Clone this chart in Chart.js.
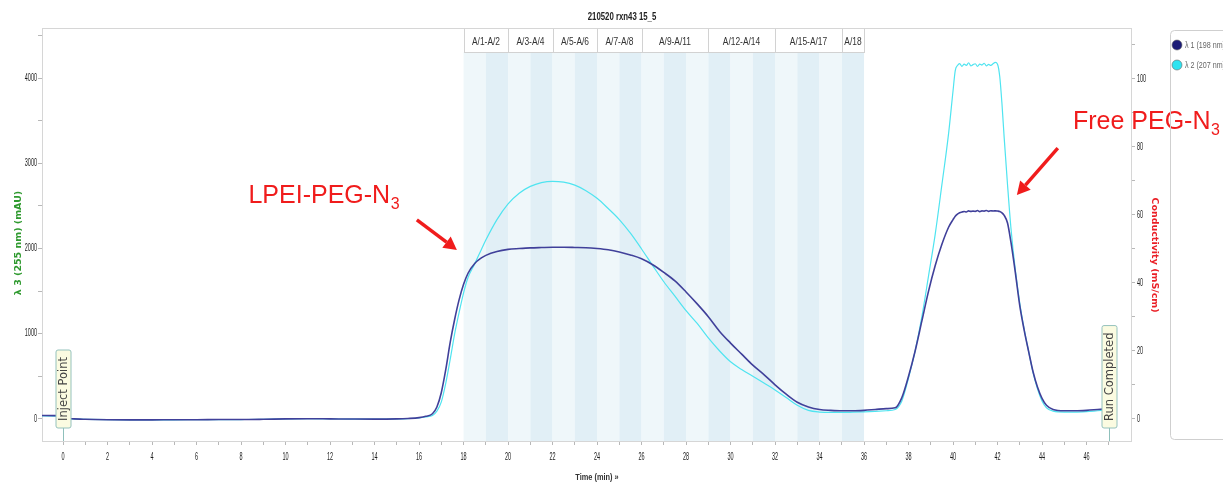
<!DOCTYPE html>
<html>
<head>
<meta charset="utf-8">
<script src="https://cdn.jsdelivr.net/npm/chart.js@4.4.1/dist/chart.umd.min.js"></script>
<style>
html,body{margin:0;padding:0;background:#fff;}
</style>
</head>
<body>
<canvas id="myChart" width="1223" height="484"></canvas>
<script>
var tiempo=[-0.95,-0.3,0,0.5,1,2,3,4,5,6,7,8,9,10,11,12,13,14,15,15.5,16,16.3,16.6,16.8,17,17.2,17.4,17.6,17.8,18,18.2,18.5,18.8,19,19.5,20,20.5,21,21.5,22,22.5,23,23.5,24,24.5,25,25.5,26,26.5,27,27.5,28,28.5,29,29.5,30,30.5,31,31.5,32,32.5,33,33.5,34,34.5,35,35.5,36,36.5,37,37.4,37.7,38,38.3,38.6,38.9,39.2,39.5,39.8,40,40.1,
40.2,40.3,40.4,40.5,40.6,40.7,40.8,40.9,41,41.1,41.2,41.3,41.4,41.5,41.6,41.7,41.8,41.9,42,
42.1,42.2,42.3,42.45,42.6,42.8,43,43.2,43.4,43.6,43.8,44,44.2,44.5,45,45.5,46,46.5,47];
var lambda1=[40,38,6,0,-5,-10,-12,-12,-10,-10,-8,-8,-5,0,2,0,-2,-3,0,5,15,30,60,140,310,580,900,1170,1400,1580,1710,1825,1890,1920,1965,1990,2000,2008,2012,2015,2015,2013,2010,2000,1985,1960,1925,1880,1810,1720,1620,1490,1350,1200,1030,890,760,630,520,400,290,195,140,110,100,95,95,100,110,120,130,250,500,800,1150,1500,1800,2050,2250,2340,2380,
2405,2420,2428,2435,2430,2442,2436,2440,2437,2446,2434,2442,2440,2447,2437,2444,2441,2443,2440,
2435,2420,2390,2300,2080,1720,1330,1040,790,550,370,240,160,110,95,95,100,110,120];
var lambda2=[35,33,4,-2,-6,-10,-12,-13,-11,-10,-9,-8,-6,-1,1,0,-3,-3,-1,3,10,22,40,90,200,420,700,1000,1250,1480,1660,1820,1990,2100,2340,2525,2650,2730,2775,2790,2780,2745,2680,2590,2470,2340,2180,1995,1800,1610,1440,1270,1120,950,800,670,580,500,420,340,250,160,100,80,75,75,78,82,88,95,110,210,480,800,1200,1680,2170,2750,3350,3850,4090,
4150,4172,4140,4165,4150,4182,4146,4160,4170,4140,4166,4155,4176,4145,4162,4150,4170,4186,4165,
4020,3700,3300,2750,2250,1750,1360,1050,790,540,350,210,130,90,80,80,85,95,105];
var nombres=['λ 1 (198 nm)','λ 2 (207 nm)'];
var colores=['#40409a','#4fe4f0'];
var marcasX=[0,1,2,3,4,5,6,7,8,9,10,11,12,13,14,15,16,17,18,19,20,21,22,23,24,25,26,27,28,29,30,31,32,33,34,35,36,37,38,39,40,41,42,43,44,45,46,47];
var marcasY=[0,500,1000,1500,2000,2500,3000,3500,4000,4500];
var marcasY2=[0,10,20,30,40,50,60,70,80,90,100,110];
var fracciones=['A/1-A/2','A/3-A/4','A/5-A/6','A/7-A/8','A/9-A/11','A/12-A/14','A/15-A/17','A/18'];
var fracIni=[18,20,22,24,26,29,32,35];
var fracFin=[20,22,24,26,29,32,35,36];
var tubos=[18,19,20,21,22,23,24,25,26,27,28,29,30,31,32,33,34,35];
var eventos=['Inject Point','Run Completed'];
var eventoT=[0,47];
var titulo='210520 rxn43 15_5';

// anotaciones en unidades de datos: texto, (t,v) del texto, flecha desde, flecha hasta
var notas=[
 {txt:'LPEI-PEG-N',t:8.33,v:2535,t0:15.9,v0:2336,t1:17.7,v1:1983},
 {txt:'Free PEG-N',t:45.39,v:3400,t0:44.71,v0:3180,t1:42.87,v1:2629}
];

var serie1=[],serie2=[];
for(var i=0;i<tiempo.length;i++){
 serie1.push({x:tiempo[i],y:lambda1[i]});
 serie2.push({x:tiempo[i],y:lambda2[i]});
}

// texto comprimido en horizontal, como en la captura original
function estrecho(c,txt,x,y,k,alin){
 c.save();c.translate(x,y);c.scale(k,1);c.textAlign=alin;c.fillText(txt,0,0);c.restore();
}

var fondo={
 id:'fondo',
 beforeDatasetsDraw:function(chart){
  var c=chart.ctx,a=chart.chartArea,sx=chart.scales.x;
  var arriba=a.top+24;
  c.save();
  for(var i=0;i<tubos.length;i++){
   var x0=sx.getPixelForValue(tubos[i]),x1=sx.getPixelForValue(tubos[i]+1);
   c.fillStyle=(i%2==0)?'#eff7fa':'#e1eff6';
   c.fillRect(x0,arriba,x1-x0,a.bottom-arriba);
  }
  c.font='10.5px "Liberation Sans",sans-serif';
  c.textBaseline='middle';
  for(var j=0;j<fracciones.length;j++){
   var xa=Math.round(sx.getPixelForValue(fracIni[j])),xb=Math.round(sx.getPixelForValue(fracFin[j]));
   c.fillStyle='#fff';c.fillRect(xa,a.top,xb-xa,24);
   c.strokeStyle='#d2d2d2';c.lineWidth=1;c.strokeRect(xa+0.5,a.top+0.5,xb-xa,24);
   c.fillStyle='#333';estrecho(c,fracciones[j],(xa+xb)/2,a.top+14,0.8,'center');
  }
  c.strokeStyle='#d6d6d6';c.lineWidth=1;
  c.strokeRect(a.left+0.5,a.top+0.5,a.right-a.left,a.bottom-a.top);
  c.restore();
 }
};

function flecha(c,x0,y0,x1,y1){
 var ang=Math.atan2(y1-y0,x1-x0),L=13,W=7;
 var bx=x1-L*Math.cos(ang),by=y1-L*Math.sin(ang);
 c.beginPath();c.moveTo(x0,y0);c.lineTo(bx,by);c.stroke();
 c.beginPath();
 c.moveTo(x1,y1);
 c.lineTo(bx+W*Math.sin(ang),by-W*Math.cos(ang));
 c.lineTo(bx-W*Math.sin(ang),by+W*Math.cos(ang));
 c.closePath();c.fill();
}

var extras={
 id:'extras',
 afterDraw:function(chart){
  var c=chart.ctx,a=chart.chartArea,sx=chart.scales.x,sy=chart.scales.y,sy2=chart.scales.y2;
  c.save();
  // etiquetas de los ejes (estrechas)
  c.font='10px "Liberation Sans",sans-serif';c.fillStyle='#1a1a1a';c.textBaseline='middle';
  sx.ticks.forEach(function(t){ if(t.label!=='') estrecho(c,String(t.label),sx.getPixelForValue(t.value),a.bottom+16,0.55,'center'); });
  sy.ticks.forEach(function(t){ if(t.label!=='') estrecho(c,String(t.label),a.left-5,sy.getPixelForValue(t.value),0.55,'right'); });
  sy2.ticks.forEach(function(t){ if(t.label!=='') estrecho(c,String(t.label),a.right+6,sy2.getPixelForValue(t.value),0.55,'left'); });
  // titulo
  c.fillStyle='#222';c.font='bold 11px "Liberation Sans",sans-serif';
  estrecho(c,titulo,622,17,0.71,'center');
  // titulos de ejes
  c.font='bold 9px "Liberation Sans",sans-serif';c.fillStyle='#333';
  estrecho(c,'Time (min) »',597,478,0.82,'center');
  c.font='bold 9.5px "DejaVu Sans",sans-serif';c.textAlign='center';
  c.save();c.translate(19,243);c.rotate(-Math.PI/2);c.fillStyle='#2f9a2f';c.fillText('λ 3 (255 nm) (mAU)',0,0);c.restore();
  c.save();c.translate(1154,255);c.rotate(Math.PI/2);c.fillStyle='#ea1f26';c.fillText('Conductivity (mS/cm)',0,0);c.restore();
  // marcas de eventos
  c.font='11.5px "DejaVu Sans",sans-serif';
  for(var k=0;k<eventos.length;k++){
   var x=Math.round(sx.getPixelForValue(eventoT[k]))+0.5;
   var w=c.measureText(eventos[k]).width,h=w+14,yb=a.bottom-13,yt=yb-h;
   c.strokeStyle='#8fc0bb';c.lineWidth=1;
   c.beginPath();c.moveTo(x,a.bottom);c.lineTo(x,yb);c.stroke();
   c.fillStyle='#fbfbe1';c.strokeStyle='#95c2bd';
   c.beginPath();c.roundRect(x-7.5,yt,15,h,2);c.fill();c.stroke();
   c.save();c.translate(x+0.5,yb-7);c.rotate(-Math.PI/2);
   c.fillStyle='#444';c.textAlign='left';c.textBaseline='middle';
   c.fillText(eventos[k],0,0);c.restore();
  }
  // anotaciones
  c.fillStyle='#f01c1c';c.strokeStyle='#f01c1c';c.lineWidth=3.5;c.lineCap='butt';
  for(var n=0;n<notas.length;n++){
   var nt=notas[n];
   var tx=sx.getPixelForValue(nt.t),ty=sy.getPixelForValue(nt.v);
   c.font='25px "Liberation Sans",sans-serif';c.textAlign='left';c.textBaseline='alphabetic';
   c.fillText(nt.txt,tx,ty);
   var ww=c.measureText(nt.txt).width;
   c.font='16px "Liberation Sans",sans-serif';
   c.fillText('3',tx+ww+0.5,ty+6);
   flecha(c,sx.getPixelForValue(nt.t0),sy.getPixelForValue(nt.v0),sx.getPixelForValue(nt.t1),sy.getPixelForValue(nt.v1));
  }
  // leyenda
  c.strokeStyle='#cfcfcf';c.lineWidth=1;
  c.beginPath();c.roundRect(1170.5,30.5,90,409,4);c.stroke();
  c.font='9.5px "Liberation Sans",sans-serif';c.textBaseline='middle';
  var relleno=['#1d1d78','#2fe3f0'];
  for(var m=0;m<nombres.length;m++){
   var cy=45+m*20;
   c.beginPath();c.arc(1177,cy,5,0,Math.PI*2);c.fillStyle=relleno[m];c.fill();
   c.strokeStyle='#666';c.lineWidth=0.6;c.stroke();
   c.fillStyle='#666';estrecho(c,nombres[m],1185,cy,0.75,'left');
  }
  c.restore();
 }
};

var ctx=document.getElementById('myChart').getContext('2d');
var grafico=new Chart(ctx,{
 type:'line',
 data:{
  datasets:[
   {label:nombres[0],data:serie1,borderColor:colores[0],borderWidth:1.6,pointRadius:0,cubicInterpolationMode:'monotone',yAxisID:'y'},
   {label:nombres[1],data:serie2,borderColor:colores[1],borderWidth:1.2,pointRadius:0,cubicInterpolationMode:'monotone',yAxisID:'y'}
  ]
 },
 options:{
  responsive:false,
  animation:false,
  layout:{padding:{top:28,right:62,left:0,bottom:0}},
  plugins:{legend:{display:false},tooltip:{enabled:false},title:{display:false}},
  scales:{
   x:{
    type:'linear',min:-0.95,max:48,
    afterBuildTicks:function(s){s.ticks=marcasX.map(function(v){return {value:v};});},
    afterFit:function(s){s.height=43;},
    ticks:{display:false,autoSkip:false,maxRotation:0,callback:function(v){return v%2===0?v:'';}},
    grid:{drawOnChartArea:false,tickLength:4,color:'#b8b8b8'},
    border:{color:'#c8c8c8'}
   },
   y:{
    position:'left',min:-260,max:4590,
    afterBuildTicks:function(s){s.ticks=marcasY.map(function(v){return {value:v};});},
    afterFit:function(s){s.width=42;},
    ticks:{display:false,callback:function(v){return v%1000===0?v:'';}},
    grid:{drawOnChartArea:false,tickLength:4,color:'#b8b8b8'},
    border:{color:'#c8c8c8'}
   },
   y2:{
    position:'right',min:-6.5,max:115,
    afterBuildTicks:function(s){s.ticks=marcasY2.map(function(v){return {value:v};});},
    afterFit:function(s){s.width=30;},
    ticks:{display:false,callback:function(v){return v%20===0?v:'';}},
    grid:{drawOnChartArea:false,tickLength:4,color:'#b8b8b8'},
    border:{color:'#c8c8c8'}
   }
  }
 },
 plugins:[fondo,extras]
});
</script>
</body>
</html>
